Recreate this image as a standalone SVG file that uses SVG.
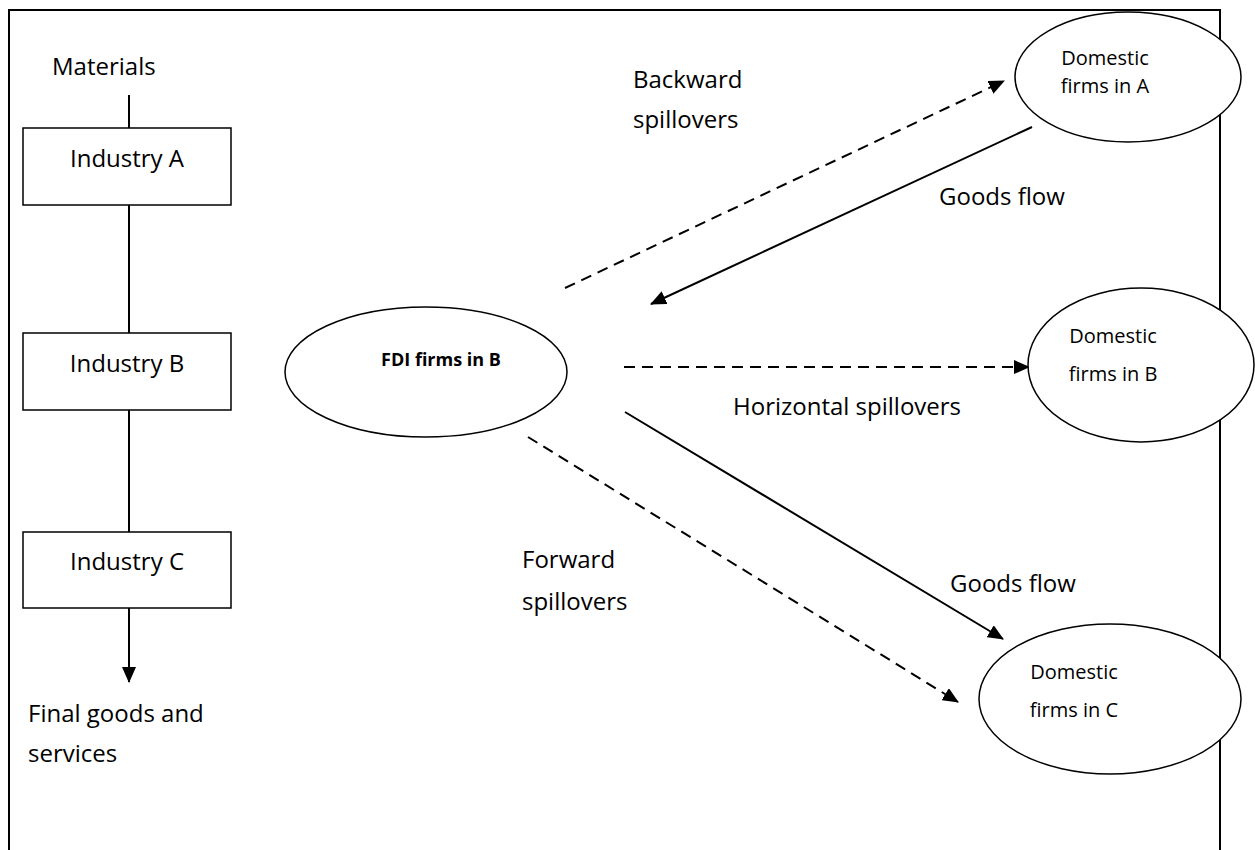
<svg xmlns="http://www.w3.org/2000/svg" width="1255" height="850" viewBox="0 0 1255 850">
<defs>
<style>
text{font-family:"Open Sans","Liberation Sans",sans-serif;fill:#000}
.lbl{font-size:24px}
.dom{font-size:20px}
.box{fill:#fff;stroke:#000;stroke-width:1.5}
.ell{fill:#fff;stroke:#000;stroke-width:1.5}
.ln{fill:none;stroke:#000;stroke-width:2}
.dash{stroke-dasharray:11 7}
</style>
<marker id="ah" markerWidth="16" markerHeight="14" refX="15" refY="7" orient="auto" markerUnits="userSpaceOnUse">
<path d="M0,0 L16,7 L0,14 Z" fill="#000"/>
</marker>
</defs>
<rect width="1255" height="850" fill="#fff"/>
<rect x="9" y="10" width="1211" height="880" fill="none" stroke="#000" stroke-width="2"/>

<g id="connectors">
<line class="ln" x1="129" y1="95" x2="129" y2="128"/>
<line class="ln" x1="129" y1="205" x2="129" y2="333"/>
<line class="ln" x1="129" y1="410" x2="129" y2="532"/>
<line class="ln" x1="129" y1="608" x2="129" y2="682" marker-end="url(#ah)"/>
<line class="ln dash" x1="565" y1="288" x2="1004" y2="81" marker-end="url(#ah)"/>
<line class="ln" x1="1032" y1="127" x2="651" y2="304" marker-end="url(#ah)"/>
<line class="ln dash" x1="624" y1="367" x2="1029" y2="367" marker-end="url(#ah)"/>
<line class="ln" x1="625" y1="412" x2="1003" y2="639" marker-end="url(#ah)"/>
<line class="ln dash" x1="528" y1="437" x2="958" y2="702" marker-end="url(#ah)"/>
</g>

<g id="materials"><text class="lbl" x="52" y="75">Materials</text></g>
<g id="industry-a"><rect class="box" x="23" y="128" width="208" height="77"/><text class="lbl" x="127" y="167" text-anchor="middle">Industry A</text></g>
<g id="industry-b"><rect class="box" x="23" y="333" width="208" height="77"/><text class="lbl" x="127" y="372" text-anchor="middle">Industry B</text></g>
<g id="industry-c"><rect class="box" x="23" y="532" width="208" height="76"/><text class="lbl" x="127" y="570" text-anchor="middle">Industry C</text></g>
<g id="final"><text class="lbl" x="28" y="722">Final goods and</text><text class="lbl" x="28" y="762">services</text></g>

<g id="fdi"><ellipse class="ell" cx="426" cy="372" rx="141" ry="65"/><text x="441" y="366" text-anchor="middle" font-size="18" font-weight="bold">FDI firms in B</text></g>
<g id="dom-a"><ellipse class="ell" cx="1128" cy="77" rx="113" ry="65"/><text class="dom" x="1105" y="65" text-anchor="middle">Domestic</text><text class="dom" x="1105" y="93" text-anchor="middle">firms in A</text></g>
<g id="dom-b"><ellipse class="ell" cx="1141" cy="365" rx="113" ry="77"/><text class="dom" x="1113" y="343" text-anchor="middle">Domestic</text><text class="dom" x="1113" y="381" text-anchor="middle">firms in B</text></g>
<g id="dom-c"><ellipse class="ell" cx="1110" cy="699" rx="131" ry="75"/><text class="dom" x="1074" y="679" text-anchor="middle">Domestic</text><text class="dom" x="1074" y="717" text-anchor="middle">firms in C</text></g>

<g id="labels">
<text class="lbl" x="633" y="88">Backward</text>
<text class="lbl" x="633" y="128">spillovers</text>
<text class="lbl" x="939" y="205">Goods flow</text>
<text class="lbl" x="733" y="415">Horizontal spillovers</text>
<text class="lbl" x="950" y="592">Goods flow</text>
<text class="lbl" x="522" y="568">Forward</text>
<text class="lbl" x="522" y="610">spillovers</text>
</g>
</svg>
